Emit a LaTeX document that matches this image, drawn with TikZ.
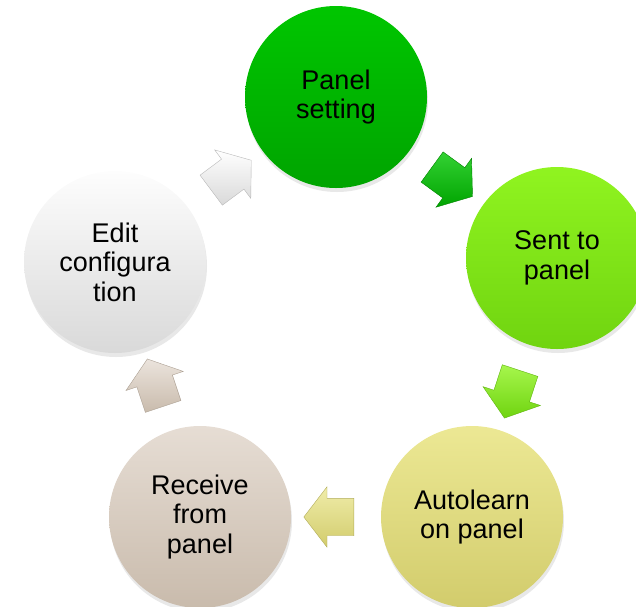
\documentclass[tikz,border=0pt]{standalone}
\usepackage{fontspec}
\setmainfont{Liberation Sans}
\usetikzlibrary{shapes.arrows,shadows}

\definecolor{psTop}{HTML}{00C600}
\definecolor{psBot}{HTML}{00A400}
\definecolor{spTop}{HTML}{90F420}
\definecolor{spBot}{HTML}{70D410}
\definecolor{apTop}{HTML}{ECE894}
\definecolor{apBot}{HTML}{D2CC6C}
\definecolor{rpTop}{HTML}{E6DDD4}
\definecolor{rpBot}{HTML}{C9BBAC}
\definecolor{ecTop}{HTML}{FDFDFD}
\definecolor{ecBot}{HTML}{D9D9D9}

\begin{document}
\begin{tikzpicture}[x=1pt,y=1pt,
  stage/.style={circle, minimum size=182pt, inner sep=0pt, align=center,
    font=\fontsize{27}{29.5}\selectfont,
    drop shadow={opacity=0.18, shadow xshift=1pt, shadow yshift=-4pt}},
  flow/.style={single arrow, sloped, allow upside down,
    inner xsep=0pt, inner ysep=18.5pt, minimum height=50pt,
    single arrow head extend=11.5pt, single arrow tip angle=105,
    line width=0.4pt}]
\useasboundingbox (0,0) rectangle (636,-606);
% stages
\node [stage, top color=psTop, bottom color=psBot] (ps) at (336,-97) {Panel\\setting};
\node [stage, top color=spTop, bottom color=spBot] (sp) at (557,-258) {Sent to\\panel};
\node [stage, top color=apTop, bottom color=apBot] (ap) at (472,-517) {Autolearn\\on panel};
\node [stage, top color=rpTop, bottom color=rpBot] (rp) at (200,-517) {Receive\\from\\panel};
\node [stage, top color=ecTop, bottom color=ecBot] (ec) at (115,-262) {Edit\\configura\\tion};
% arrows
\path (ps) -- node [flow, draw=psBot!80!black, top color=psTop!80!white, bottom color=psBot] {} (sp);
\path (sp) -- node [flow, draw=spBot!85!black, top color=spTop!80!white, bottom color=spBot] {} (ap);
\path (ap) -- node [flow, draw=apBot!85!black, top color=apTop!80!white, bottom color=apBot] {} (rp);
\path (rp) -- node [flow, draw=rpBot!85!black, top color=rpTop!80!white, bottom color=rpBot] {} (ec);
\path (ec) -- node [flow, draw=ecBot!85!black, top color=white, bottom color=ecBot] {} (ps);
\end{tikzpicture}
\end{document}
